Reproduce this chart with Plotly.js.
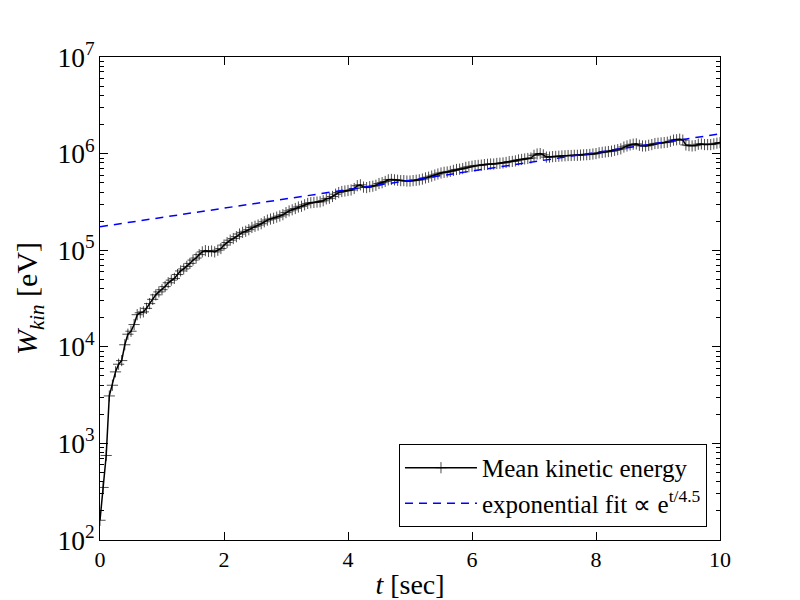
<!DOCTYPE html>
<html>
<head>
<meta charset="utf-8">
<script src="https://cdn.plot.ly/plotly-3.0.1.min.js"></script>
<style>
  body { margin: 0; background: #fff; }
  #myDiv { width: 800px; height: 600px; }
</style>
</head>
<body>
<div id="myDiv"></div>
<script>
// time samples [sec], one every 0.05 s
var times = [];
for (var i = 0; i <= 200; i++) { times.push(i / 20); }

// mean kinetic energy [eV]
var energy = [
  160, 350, 750, 3100, 4000, 5500, 6600, 7200, 1.05e4, 1.35e4,
  1.45e4, 1.7e4, 2.15e4, 2.25e4, 2.3e4, 2.5e4, 2.8e4, 3.1e4, 3.45e4, 3.7e4,
  3.9e4, 4.2e4, 4.6e4, 4.9e4, 5.1e4, 5.6e4, 6.1e4, 6.4e4, 6.8e4, 7.3e4,
  7.9e4, 8.3e4, 9.0e4, 9.6e4, 9.9e4, 9.7e4, 9.8e4, 9.6e4, 1.0e5, 1.04e5,
  1.13e5, 1.2e5, 1.27e5, 1.32e5, 1.38e5, 1.47e5, 1.53e5, 1.57e5, 1.63e5, 1.72e5,
  1.77e5, 1.82e5, 1.88e5, 1.97e5, 2.05e5, 2.1e5, 2.14e5, 2.2e5, 2.26e5, 2.33e5,
  2.45e5, 2.55e5, 2.62e5, 2.7e5, 2.8e5, 2.85e5, 2.95e5, 3.05e5, 3.1e5, 3.12e5,
  3.15e5, 3.17e5, 3.25e5, 3.4e5, 3.45e5, 3.6e5, 3.8e5, 3.95e5, 4.05e5, 4.1e5,
  4.15e5, 4.2e5, 4.35e5, 4.65e5, 4.75e5, 4.5e5, 4.45e5, 4.55e5, 4.6e5, 4.7e5,
  4.9e5, 5.0e5, 5.15e5, 5.35e5, 5.4e5, 5.35e5, 5.3e5, 5.25e5, 5.25e5, 5.2e5,
  5.2e5, 5.25e5, 5.3e5, 5.35e5, 5.45e5, 5.6e5, 5.7e5, 5.85e5, 6.0e5, 6.15e5,
  6.3e5, 6.4e5, 6.45e5, 6.55e5, 6.7e5, 6.85e5, 6.9e5, 7.0e5, 7.2e5, 7.3e5,
  7.4e5, 7.5e5, 7.55e5, 7.6e5, 7.7e5, 7.75e5, 7.8e5, 7.8e5, 7.9e5, 7.95e5,
  8.0e5, 8.1e5, 8.25e5, 8.3e5, 8.4e5, 8.6e5, 8.7e5, 8.8e5, 8.9e5, 9.0e5,
  9.6e5, 9.9e5, 1.0e6, 9.7e5, 9.2e5, 9.2e5, 9.3e5, 9.35e5, 9.4e5, 9.45e5,
  9.5e5, 9.55e5, 9.55e5, 9.6e5, 9.6e5, 9.65e5, 9.7e5, 9.75e5, 9.8e5, 9.9e5,
  1.0e6, 1.02e6, 1.03e6, 1.04e6, 1.05e6, 1.06e6, 1.08e6, 1.1e6, 1.12e6, 1.17e6,
  1.2e6, 1.23e6, 1.25e6, 1.26e6, 1.22e6, 1.2e6, 1.2e6, 1.22e6, 1.24e6, 1.27e6,
  1.28e6, 1.29e6, 1.3e6, 1.31e6, 1.34e6, 1.38e6, 1.39e6, 1.41e6, 1.38e6, 1.23e6,
  1.21e6, 1.2e6, 1.21e6, 1.25e6, 1.26e6, 1.24e6, 1.24e6, 1.24e6, 1.26e6, 1.28e6,
  1.3e6
];

// exponential fit, end points (straight on the log axis)
var fit_t = [0, 10];
var fit_w = [1.75e5, 1.6e6];

var serif = "'Liberation Serif', 'DejaVu Serif', serif";

var data = [
  {
    x: times,
    y: energy,
    type: 'scatter',
    mode: 'lines+markers',
    name: '<span style="font-family:Liberation Serif">Mean kinetic energy</span>',
    line: { color: 'black', width: 1.5 },
    marker: { symbol: 'cross-thin', size: 8, color: 'black', line: { color: 'black', width: 0.7 } }
  },
  {
    x: fit_t,
    y: fit_w,
    type: 'scatter',
    mode: 'lines',
    name: '<span style="font-family:Liberation Serif">exponential fit \u221d e<sup>t/4.5</sup></span>',
    line: { color: 'blue', width: 1.5, dash: '8px,6px' }
  }
];

var layout = {
  width: 800,
  height: 600,
  margin: { l: 100, r: 80, t: 57, b: 60 },
  paper_bgcolor: 'white',
  plot_bgcolor: 'white',
  font: { family: serif, color: 'black', size: 20 },
  showlegend: true,
  xaxis: {
    range: [0, 10],
    dtick: 2,
    showgrid: false,
    zeroline: false,
    showline: true,
    linecolor: 'black',
    linewidth: 1,
    mirror: 'ticks',
    ticks: 'inside',
    ticklen: 8,
    tickcolor: 'black',
    tickfont: { family: serif, size: 22 },
    title: { text: '<i>t</i> [sec]', font: { family: serif, size: 28 }, standoff: 10 }
  },
  yaxis: {
    type: 'log',
    range: [2, 7],
    dtick: 1,
    exponentformat: 'power',
    showgrid: false,
    zeroline: false,
    showline: true,
    linecolor: 'black',
    linewidth: 1,
    mirror: 'ticks',
    ticks: 'inside',
    ticklen: 8,
    tickcolor: 'black',
    tickfont: { family: serif, size: 22 },
    minor: { ticks: 'inside', ticklen: 4, tickcolor: 'black', dtick: 'D1', showgrid: false },
    title: { text: '<i>W</i><sub><i>kin</i></sub> [eV]', font: { family: serif, size: 30 }, standoff: 10 }
  },
  legend: {
    x: 0.979,
    y: 0.027,
    xanchor: 'right',
    yanchor: 'bottom',
    bgcolor: 'white',
    bordercolor: 'black',
    borderwidth: 1,
    itemwidth: 72,
    font: { family: serif, size: 25, color: 'black' },
    tracegroupgap: 4
  }
};

Plotly.newPlot('myDiv', data, layout, { displayModeBar: false, staticPlot: true });
</script>
</body>
</html>
